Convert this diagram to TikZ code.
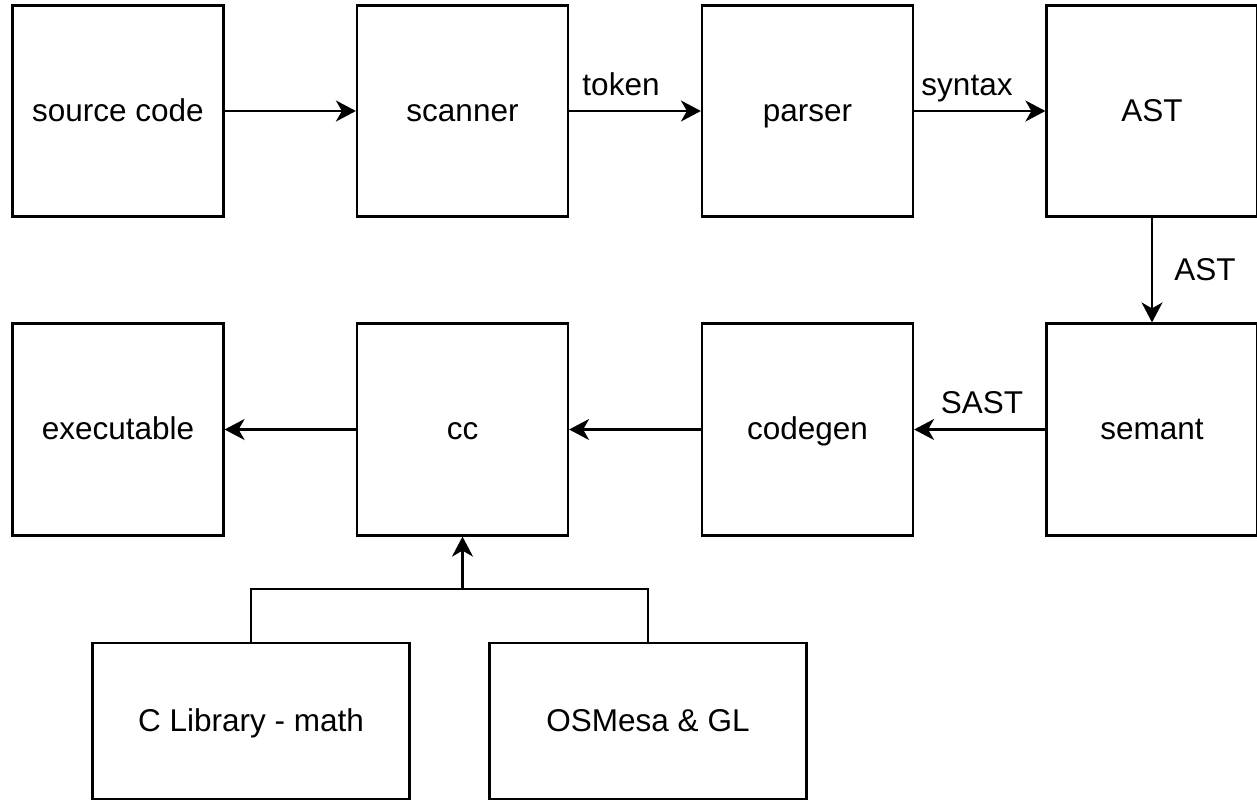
\documentclass[tikz,border=0pt]{standalone}
\usepackage{fontspec}
\setmainfont{Liberation Sans}
\usetikzlibrary{arrows.meta}
\begin{document}
\begin{tikzpicture}[x=1pt,y=-1pt,
  box/.style={draw=black, line width=2.2pt, fill=white, minimum width=211pt, minimum height=211pt, inner sep=0pt, text height=24pt, text depth=4pt, font=\fontsize{31.5}{37}\selectfont},
  wbox/.style={box, minimum width=317pt, minimum height=156pt},
  lbl/.style={inner sep=0pt, text height=24pt, text depth=4pt, font=\fontsize{31.5}{37}\selectfont},
  conn/.style={line width=2.2pt, -{Stealth[length=20pt, width=21pt, inset=6pt]}},
  plain/.style={line width=2.2pt}]
\useasboundingbox (0,0) rectangle (1257,801);
\node[box] (src) at (118,111) {source code};
\node[box] (scn) at (462.5,111) {scanner};
\node[box] (par) at (807.5,111) {parser};
\node[box] (ast) at (1152,111) {AST};
\node[box, minimum height=212pt] (sem) at (1152,429.5) {semant};
\node[box, minimum height=212pt] (cg) at (807.5,429.5) {codegen};
\node[box, minimum height=212pt] (cc) at (462.5,429.5) {cc};
\node[box, minimum height=212pt] (exe) at (118,429.5) {executable};
\node[wbox] (clib) at (251,721) {C Library - math};
\node[wbox] (osm) at (648,721) {OSMesa \& GL};
\coordinate (jn) at (462.5,589);
\draw[conn] (src.east) -- (scn.west);
\draw[conn] (scn.east) -- (par.west);
\draw[conn] (par.east) -- (ast.west);
\draw[conn] (ast.south) -- (sem.north);
\draw[conn] (sem.west) -- (cg.east);
\draw[conn] (cg.west) -- (cc.east);
\draw[conn] (cc.west) -- (exe.east);
\draw[plain] (clib.north) |- (jn);
\draw[plain] (osm.north) |- (jn);
\draw[conn] (jn) -- (cc.south);
\node[lbl] (ltok) at (621,85) {token};
\node[lbl] (lsyn) at (967,85) {syntax};
\node[lbl] (last) at (1205,270) {AST};
\node[lbl] (lsast) at (982,403) {SAST};
\end{tikzpicture}
\end{document}
